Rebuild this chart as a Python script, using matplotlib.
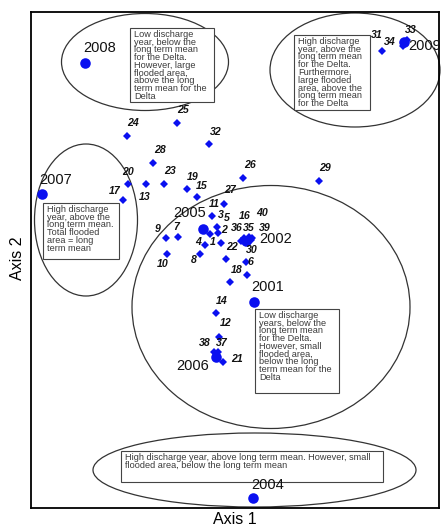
import matplotlib
matplotlib.use("Agg")
import matplotlib.pyplot as plt
from matplotlib.patches import Ellipse, Rectangle

plt.rcParams['font.family'] = ['Liberation Sans', 'DejaVu Sans']

# ---- sample points (ordination scores) ----
point_ids = [str(i) for i in range(1, 41)]
point_x = [210, 218, 212, 205, 217, 246, 178, 200, 166, 167,
           224, 219, 146, 216, 197, 244, 123, 230, 187, 128,
           223, 221, 164, 127, 177, 243, 226, 153, 319, 247,
           382, 209, 407, 403, 251, 241, 218, 214, 252, 249]
point_y = [234, 233, 216, 245, 227, 262, 237, 254, 238, 254,
           204, 337, 184, 313, 197, 238, 200, 282, 189, 184,
           362, 243, 184, 136, 123, 178, 259, 163, 181, 275,
           51, 144, 40, 46, 240, 241, 352, 352, 238, 237]
# label anchor positions for the point numbers
label_x = [213, 224, 221, 198, 227, 250, 176, 194, 158, 163,
           214, 226, 145, 222, 202, 245, 115, 237, 193, 128,
           237, 232, 170, 133, 183, 250, 230, 160, 325, 252,
           377, 216, 411, 390, 249, 237, 222, 205, 265, 262]
label_y = [242, 230, 215, 242, 218, 262, 227, 260, 229, 264,
           204, 323, 197, 301, 186, 216, 191, 270, 177, 172,
           359, 247, 171, 123, 110, 165, 190, 150, 168, 250,
           35, 132, 30, 42, 228, 228, 343, 343, 228, 213]

# ---- years (centroids) ----
year_names = ['2008', '2009', '2007', '2005', '2002', '2001', '2006', '2004']
year_x = [85, 404, 42, 203, 246, 254, 216, 253]
year_y = [63, 42, 194, 229, 241, 302, 357, 498]
year_label_x = [100, 425, 56, 190, 276, 268, 193, 268]
year_label_y = [48, 46, 180, 213, 239, 287, 366, 485]

# ---- group annotations ----
group_texts = [
    "Low discharge\nyear, below the\nlong term mean\nfor the Delta.\nHowever, large\nflooded area,\nabove the long\nterm mean for the\nDelta",
    "High discharge\nyear, above the\nlong term mean\nfor the Delta.\nFurthermore,\nlarge flooded\narea, above the\nlong term mean\nfor the Delta",
    "High discharge\nyear, above the\nlong term mean.\nTotal flooded\narea = long\nterm mean",
    "Low discharge\nyears, below the\nlong term mean\nfor the Delta.\nHowever, small\nflooded area,\nbelow the long\nterm mean for the\nDelta",
    "High discharge year, above long term mean. However, small\nflooded area, below the long term mean",
]
box_x0 = [130, 294, 43, 255, 121]
box_y0 = [28, 35, 203, 309, 451]
box_x1 = [214, 370, 119, 339, 383]
box_y1 = [102, 110, 259, 393, 482]

ell_cx = [145, 355, 86, 271, 254.5]
ell_cy = [62, 70, 220, 307, 470]
ell_w = [167, 170, 103, 278, 323]
ell_h = [97, 114, 152, 243, 74]
ell_angle = [0, 0, 0, 0, 0]

W, H = 442, 530
fig = plt.figure(figsize=(W / 100, H / 100), dpi=100)
ax = fig.add_axes([31 / W, (H - 508) / H, (439 - 31) / W, (508 - 12) / H])
ax.set_xlim(31, 439)
ax.set_ylim(508, 12)
ax.set_xticks([])
ax.set_yticks([])
for s in ax.spines.values():
    s.set_linewidth(1.3)
    s.set_color('black')

blue = '#0a10f0'
edge = '#333333'

for cx, cy, w, h, a in zip(ell_cx, ell_cy, ell_w, ell_h, ell_angle):
    ax.add_patch(Ellipse((cx, cy), w, h, angle=a, fill=False, edgecolor=edge,
                         linewidth=0.9, clip_on=False, zorder=1))

for txt, x0, y0, x1, y1 in zip(group_texts, box_x0, box_y0, box_x1, box_y1):
    ax.add_patch(Rectangle((x0, y0), x1 - x0, y1 - y0, fill=True, facecolor='white',
                           edgecolor='#444444', linewidth=0.8, zorder=2))
    ax.text(x0 + 4, y0 + 2, txt, ha='left', va='top', fontsize=6.6,
            color='#3a3a3a', linespacing=0.82, zorder=3)

ax.plot(point_x, point_y, linestyle='none', marker='D', markersize=4.2,
        color=blue, markeredgewidth=0, zorder=4)
for t, lx, ly in zip(point_ids, label_x, label_y):
    ax.text(lx, ly, t, ha='center', va='center', fontsize=7.6, fontweight='bold',
            fontstyle='italic', color='#111111', zorder=5)

ax.plot(year_x, year_y, linestyle='none', marker='o', markersize=7.6,
        color=blue, markeredgewidth=0, zorder=4)
for t, lx, ly in zip(year_names, year_label_x, year_label_y):
    ax.text(lx, ly, t, ha='center', va='center', fontsize=10.5,
            color='#111111', zorder=5)

fig.text(235 / W, 1 - 519 / H, 'Axis 1', ha='center', va='center', fontsize=11.5)
fig.text(17 / W, 1 - 258 / H, 'Axis 2', ha='center', va='center', fontsize=11.5,
         rotation=90)

fig.savefig('out.png', dpi=100)
